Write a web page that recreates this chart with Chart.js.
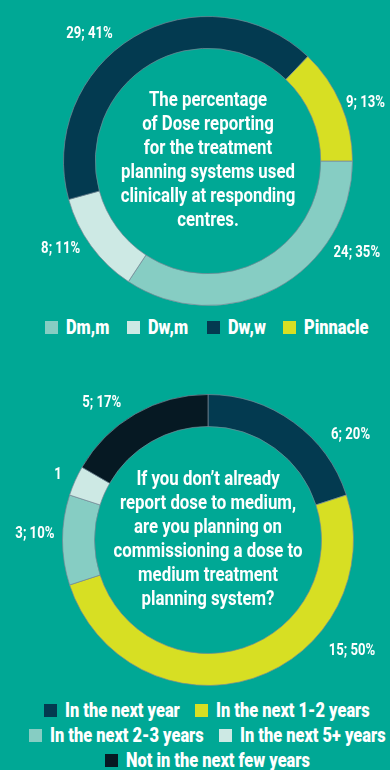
<!DOCTYPE html>
<html>
<head>
<meta charset="utf-8">
<script src="https://cdn.jsdelivr.net/npm/chart.js@4/dist/chart.umd.min.js"></script>
<style>
  body { margin: 0; background: #00a895; }
  #page { position: relative; width: 390px; height: 770px; overflow: hidden; }
  canvas { position: absolute; left: 0; }
  .legend {
    position: absolute; display: flex; flex-wrap: wrap; justify-content: center;
    column-gap: 15px; line-height: 25px; color: #fff;
    font-family: Roboto, sans-serif; font-weight: bold; font-size: 20px;
  }
  .legend span { display: flex; align-items: center; white-space: nowrap; }
  .legend i { display: inline-block; width: 13px; height: 13px; margin-right: 8px; }
  .legend b { display: inline-block; transform-origin: left center; }
</style>
</head>
<body>
<div id="page">
  <canvas id="doseChart" width="390" height="310" style="top:0"></canvas>
  <div class="legend" id="doseLegend" style="top:315px;left:0;width:414px;column-gap:18px"></div>
  <canvas id="planChart" width="390" height="310" style="top:380px"></canvas>
  <div class="legend" id="planLegend" style="top:698px;left:12px;width:390px"></div>
</div>
<script>
const FONT = 'Roboto, sans-serif';
const SQUEEZE = 0.82; // narrow lettering

// dose reporting
const doseLabels = ['Dm,m', 'Dw,m', 'Dw,w', 'Pinnacle'];
const doseCounts = [24, 8, 29, 9];
const dosePct = [35, 11, 41, 13];
const doseColors = ['#86cdc3', '#cde9e4', '#033a50', '#d7df23'];
const doseTitle = ['The percentage', 'of Dose reporting', 'for the treatment',
  'planning systems used', 'clinically at responding', 'centres.'];

// plans to commission dose to medium
const planLabels = ['In the next year', 'In the next 1-2 years', 'In the next 2-3 years',
  'In the next 5+ years', 'Not in the next few years'];
const planCounts = [6, 15, 3, 1, 5];
const planPct = [20, 50, 10, null, 17];
const planColors = ['#033a50', '#d7df23', '#86cdc3', '#cde9e4', '#061923'];
const planTitle = ['If you don\u2019t already', 'report dose to medium,', 'are you planning on',
  'commissioning a dose to', 'medium treatment', 'planning system?'];

function narrowText(ctx, txt, x, y) {
  ctx.save();
  ctx.translate(x, y);
  ctx.scale(SQUEEZE, 1);
  ctx.fillText(txt, 0, 0);
  ctx.restore();
}

// value labels around the ring + question in the hole
const ringText = {
  id: 'ringText',
  afterDatasetsDraw(chart, args, opts) {
    const ctx = chart.ctx;
    const arcs = chart.getDatasetMeta(0).data;
    const vals = chart.data.datasets[0].data;
    ctx.save();
    ctx.fillStyle = '#fff';
    ctx.textAlign = 'center';
    ctx.textBaseline = 'middle';
    ctx.font = `bold 16px ${FONT}`;
    arcs.forEach((arc, i) => {
      const p = opts.pct[i];
      const txt = p == null ? `${vals[i]}` : `${vals[i]}; ${p}%`;
      const [fx, fy] = opts.spots[i];
      narrowText(ctx, txt, arc.x + fx * arc.outerRadius, arc.y + fy * arc.outerRadius);
    });
    ctx.font = `bold 20.5px ${FONT}`;
    const {x, y} = arcs[0];
    const n = opts.title.length;
    opts.title.forEach((line, k) => narrowText(ctx, line, x, y + (k - (n - 1) / 2) * 24));
    ctx.restore();
  }
};

function buildLegend(chart, id) {
  const box = document.getElementById(id);
  const items = chart.options.plugins.legend.labels.generateLabels(chart);
  box.innerHTML = items.map(it =>
    `<span><i style="background:${it.fillStyle}"></i><b>${it.text}</b></span>`).join('');
  box.querySelectorAll('b').forEach(b => {
    const w = b.getBoundingClientRect().width;
    b.style.transform = `scaleX(${SQUEEZE})`;
    b.style.width = (w * SQUEEZE) + 'px';
  });
}

function ring(id, labels, counts, colors, pct, title, spots, pad) {
  return new Chart(document.getElementById(id), {
    type: 'doughnut',
    data: {
      labels: labels,
      datasets: [{
        data: counts,
        backgroundColor: colors,
        borderColor: 'rgba(120,135,150,0.7)',
        borderWidth: 1
      }]
    },
    options: {
      responsive: false,
      animation: false,
      cutout: '78%',
      rotation: pad.rotation,
      layout: { padding: pad.box },
      plugins: {
        legend: { display: false },
        tooltip: { enabled: false },
        ringText: { pct: pct, title: title, spots: spots }
      }
    },
    plugins: [ringText]
  });
}

const doseChart = ring('doseChart', doseLabels, doseCounts, doseColors, dosePct, doseTitle,
  [[1.03, 0.64], [-1.02, 0.61], [-0.82, -0.88], [1.09, -0.40]],
  { rotation: 90, box: { left: 63, right: 37, top: 16, bottom: 4 } });
buildLegend(doseChart, 'doseLegend');

const planChart = ring('planChart', planLabels, planCounts, planColors, planPct, planTitle,
  [[0.98, -0.72], [0.99, 0.76], [-1.19, -0.04], [-1.03, -0.45], [-0.73, -0.94]],
  { rotation: 0, box: { left: 62, right: 36, top: 14, bottom: 4 } });
buildLegend(planChart, 'planLegend');
</script>
</body>
</html>
